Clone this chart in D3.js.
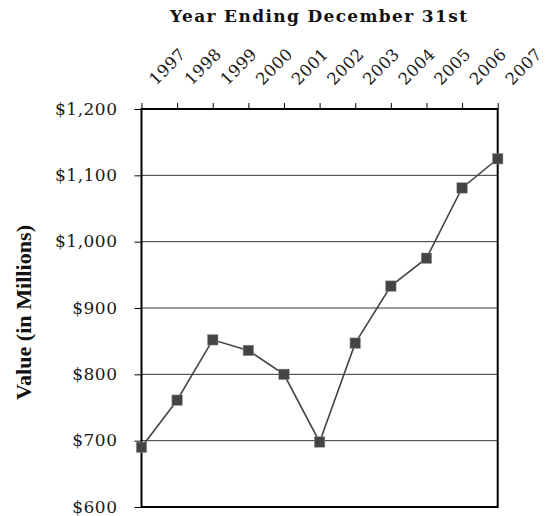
<!DOCTYPE html>
<html>
<head>
<meta charset="utf-8">
<script src="https://cdn.jsdelivr.net/npm/d3@7"></script>
<style>
  html, body { margin: 0; padding: 0; background: #fff; }
  svg { display: block; }
</style>
</head>
<body>
<div id="chart"></div>
<script>
const years = [1997, 1998, 1999, 2000, 2001, 2002, 2003, 2004, 2005, 2006, 2007];
const values = [690, 761, 852, 836, 800, 698, 847, 933, 975, 1081, 1125];
const yTicks = [600, 700, 800, 900, 1000, 1100, 1200];
const xTitle = "Year Ending December 31st";
const yTitle = "Value (in Millions)";

(function () {
const W = 553, H = 516;
const pLeft = 141.5, pRight = 497.7, pTop = 109, pBottom = 507;

const svg = d3.select("#chart").append("svg").attr("width", W).attr("height", H);

const x = d3.scaleLinear().domain([1997, 2007]).range([pLeft, pRight]);
const y = d3.scaleLinear().domain([600, 1200]).range([pBottom, pTop]);

// gridlines
svg.append("g").selectAll("line").data(yTicks.filter(d => d > 600 && d < 1200)).join("line")
  .attr("x1", pLeft).attr("x2", pRight)
  .attr("y1", d => y(d)).attr("y2", d => y(d))
  .attr("stroke", "#333").attr("stroke-width", 1);

// left axis
const yAxis = d3.axisLeft(y).tickValues(yTicks).tickSize(7).tickPadding(17)
  .tickFormat(d => "$" + d3.format(",")(d));
const gy = svg.append("g").attr("transform", `translate(${pLeft},0)`).call(yAxis);
gy.select(".domain").remove();
gy.selectAll(".tick line").attr("stroke", "#000").attr("stroke-width", 1);
gy.selectAll(".tick text")
  .attr("font-family", "DejaVu Serif").attr("font-size", 17)
  .attr("letter-spacing", "0.5px")
  .attr("fill", "#1a1a1a").attr("dy", 5);

// top axis
const xAxis = d3.axisTop(x).tickValues(years).tickSize(6).tickFormat(d => d);
const gx = svg.append("g").attr("transform", `translate(0,${pTop})`).call(xAxis);
gx.select(".domain").remove();
gx.selectAll(".tick line").attr("stroke", "#000").attr("stroke-width", 1);
gx.selectAll(".tick text")
  .attr("font-family", "DejaVu Serif").attr("font-size", 16.5)
  .attr("letter-spacing", "0.4px")
  .attr("fill", "#1a1a1a")
  .attr("text-anchor", "start")
  .attr("x", 0).attr("y", 0).attr("dy", 0)
  .attr("transform", `translate(14,${86 - pTop}) rotate(-45)`);

// frame
svg.append("rect")
  .attr("x", pLeft).attr("y", pTop)
  .attr("width", pRight - pLeft).attr("height", pBottom - pTop)
  .attr("fill", "none").attr("stroke", "#000").attr("stroke-width", 2);

// line
const data = years.map((yr, i) => ({ yr, v: values[i] }));
svg.append("path").datum(data)
  .attr("fill", "none").attr("stroke", "#444").attr("stroke-width", 1.6)
  .attr("d", d3.line().x(d => x(d.yr)).y(d => y(d.v)));

// markers
const s = 10.5;
svg.append("g").selectAll("rect").data(data).join("rect")
  .attr("x", d => x(d.yr) - s / 2).attr("y", d => y(d.v) - s / 2)
  .attr("width", s).attr("height", s)
  .attr("fill", "#444").attr("stroke", "#999").attr("stroke-width", 0.5);

// titles
svg.append("text")
  .attr("x", 318.5).attr("y", 22)
  .attr("text-anchor", "middle")
  .attr("font-family", "DejaVu Serif").attr("font-weight", "bold").attr("font-size", 17)
  .attr("textLength", 297).attr("lengthAdjust", "spacing")
  .attr("fill", "#111")
  .text(xTitle);

svg.append("text")
  .attr("transform", "translate(31,312.5) rotate(-90)")
  .attr("text-anchor", "middle")
  .attr("font-family", "Liberation Serif").attr("font-weight", "bold").attr("font-size", 21)
  .attr("textLength", 175).attr("lengthAdjust", "spacingAndGlyphs")
  .attr("fill", "#111")
  .text(yTitle);
})();
</script>
</body>
</html>
